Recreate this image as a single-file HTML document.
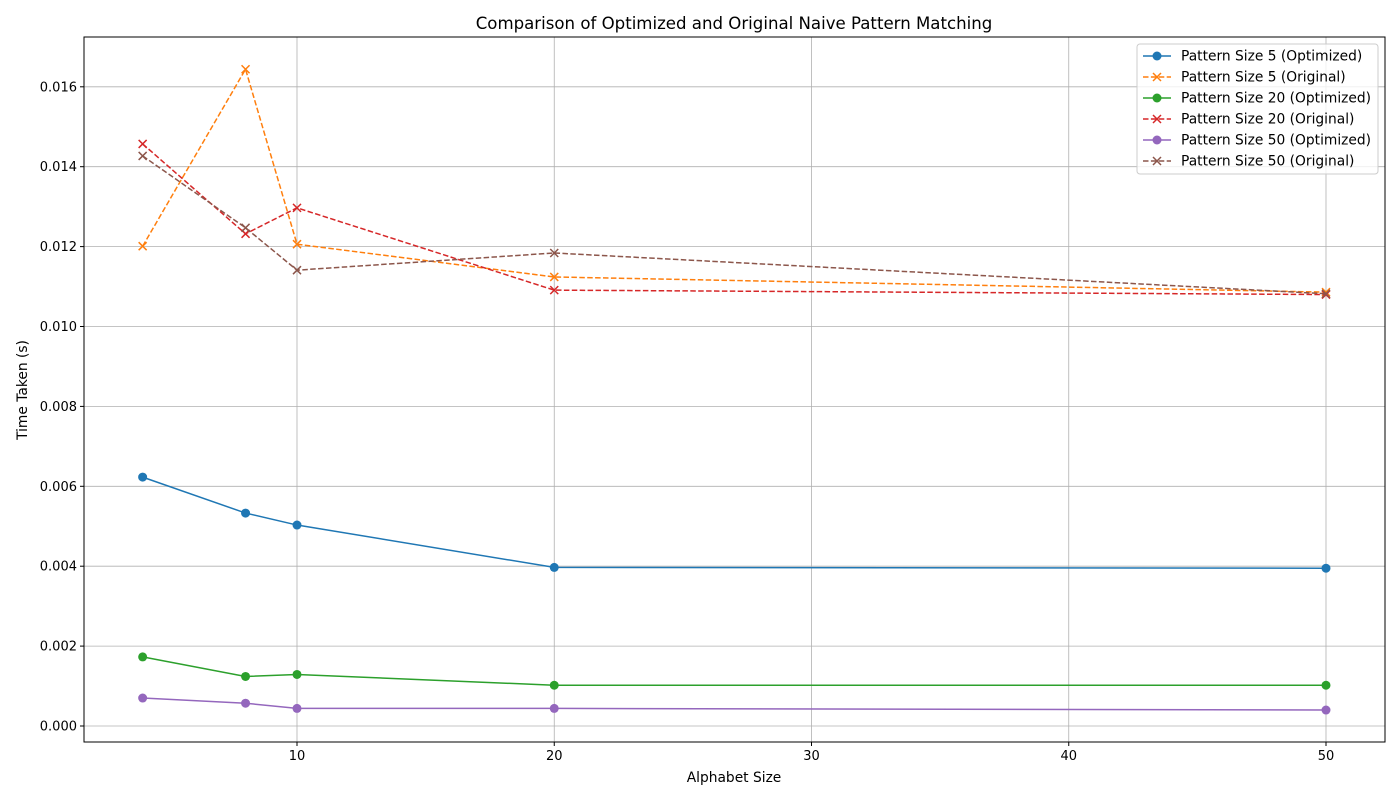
<!DOCTYPE html>
<html><head><meta charset="utf-8"><style>
body{margin:0;background:#fff;font-family:"Liberation Sans","DejaVu Sans",sans-serif}
svg text{font-family:"DejaVu Sans","Liberation Sans",sans-serif;fill:#000}
</style></head><body>
<svg id="chart" width="1400" height="800" xmlns="http://www.w3.org/2000/svg"></svg>
<script>
const alphabetSizes=[4,8,10,20,50];
const p5Opt=[0.00623,0.00533,0.00503,0.00397,0.00395];
const p5Orig=[0.01201,0.01644,0.01206,0.01124,0.01086];
const p20Opt=[0.00173,0.00124,0.00129,0.00102,0.00102];
const p20Orig=[0.01457,0.01232,0.01297,0.01091,0.01080];
const p50Opt=[0.00070,0.00057,0.00044,0.00044,0.00040];
const p50Orig=[0.01427,0.01247,0.01141,0.01184,0.01082];
const xTicks=[10,20,30,40,50];
const yTicks=[0,0.002,0.004,0.006,0.008,0.010,0.012,0.014,0.016];
const seriesNames=["Pattern Size 5 (Optimized)","Pattern Size 5 (Original)","Pattern Size 20 (Optimized)","Pattern Size 20 (Original)","Pattern Size 50 (Optimized)","Pattern Size 50 (Original)"];

const NS="http://www.w3.org/2000/svg";
const svg=document.getElementById('chart');
const L=84,R=1385,T=37,B=742;
const xs=v=>297+(v-10)*25.725;
const ys=v=>726-v*39950;
function mk(tag,attrs,parent){const e=document.createElementNS(NS,tag);for(const k in attrs)e.setAttribute(k,attrs[k]);(parent||svg).appendChild(e);return e;}

let t=mk('text',{x:734,y:29,'font-size':16.6,'text-anchor':'middle'});t.textContent="Comparison of Optimized and Original Naive Pattern Matching";



xTicks.forEach(v=>{const x=xs(v);
 let g=mk('line',{x1:x,x2:x,y1:T,y2:B,stroke:'#b0b0b0','stroke-width':0.8});
 
 
 mk('line',{x1:x,x2:x,y1:B,y2:B+4,stroke:'#000'});
 let l=mk('text',{x:x,y:B+18,'font-size':13,'text-anchor':'middle'});l.textContent=v;
 
 
});
yTicks.forEach(v=>{const y=ys(v);
 let g=mk('line',{x1:L,x2:R,y1:y,y2:y,stroke:'#b0b0b0','stroke-width':0.8});
 
 
 mk('line',{x1:L-4,x2:L,y1:y,y2:y,stroke:'#000'});
 let l=mk('text',{x:L-7,y:y+4.5,'font-size':13,'text-anchor':'end'});l.textContent=v.toFixed(3);
 
 
});
let fr=mk('rect',{x:L,y:T,width:R-L,height:B-T,fill:'none',stroke:'#000','stroke-width':1});


let xl=mk('text',{x:734,y:782,'font-size':13.8,'text-anchor':'middle'});xl.textContent="Alphabet Size";


let yl=mk('text',{x:27,y:390,'font-size':13.8,'text-anchor':'middle',transform:'rotate(-90 27 390)'});yl.textContent="Time Taken (s)";



const data=[p5Opt,p5Orig,p20Opt,p20Orig,p50Opt,p50Orig];
const colors=['#1f77b4','#ff7f0e','#2ca02c','#d62728','#9467bd','#8c564b'];
function marker(x,y,c,isX,parent){
 if(isX){mk('path',{d:`M${x-4},${y-4}L${x+4},${y+4}M${x-4},${y+4}L${x+4},${y-4}`,stroke:c,'stroke-width':1.5},parent);}
 else mk('circle',{cx:x,cy:y,r:4.5,fill:c},parent);
}
data.forEach((arr,i)=>{
 const g=mk('g',{});
 
 
 const isX=i%2===1;
 const pts=arr.map((v,j)=>xs(alphabetSizes[j])+','+ys(v)).join(' ');
 mk('polyline',{points:pts,fill:'none',stroke:colors[i],'stroke-width':1.5,'stroke-dasharray':isX?'5.5,2.4':'none'},g);
 arr.forEach((v,j)=>marker(xs(alphabetSizes[j]),ys(v),colors[i],isX,g));
});

const lg=mk('g',{});


mk('rect',{x:1137,y:44,width:241,height:130,rx:3,fill:'#fff','fill-opacity':0.8,stroke:'#ccc'},lg);
seriesNames.forEach((n,i)=>{
 const y=56+i*21, isX=i%2===1;
 const e=mk('g',{},lg);
 
 
 mk('line',{x1:1143,x2:1171,y1:y,y2:y,stroke:colors[i],'stroke-width':1.5,'stroke-dasharray':isX?'5.5,2.4':'none'},e);
 marker(1157,y,colors[i],isX,e);
 const tx=mk('text',{x:1181,y:y+4.5,'font-size':13.8},e);tx.textContent=n;
});
</script>
</body></html>
